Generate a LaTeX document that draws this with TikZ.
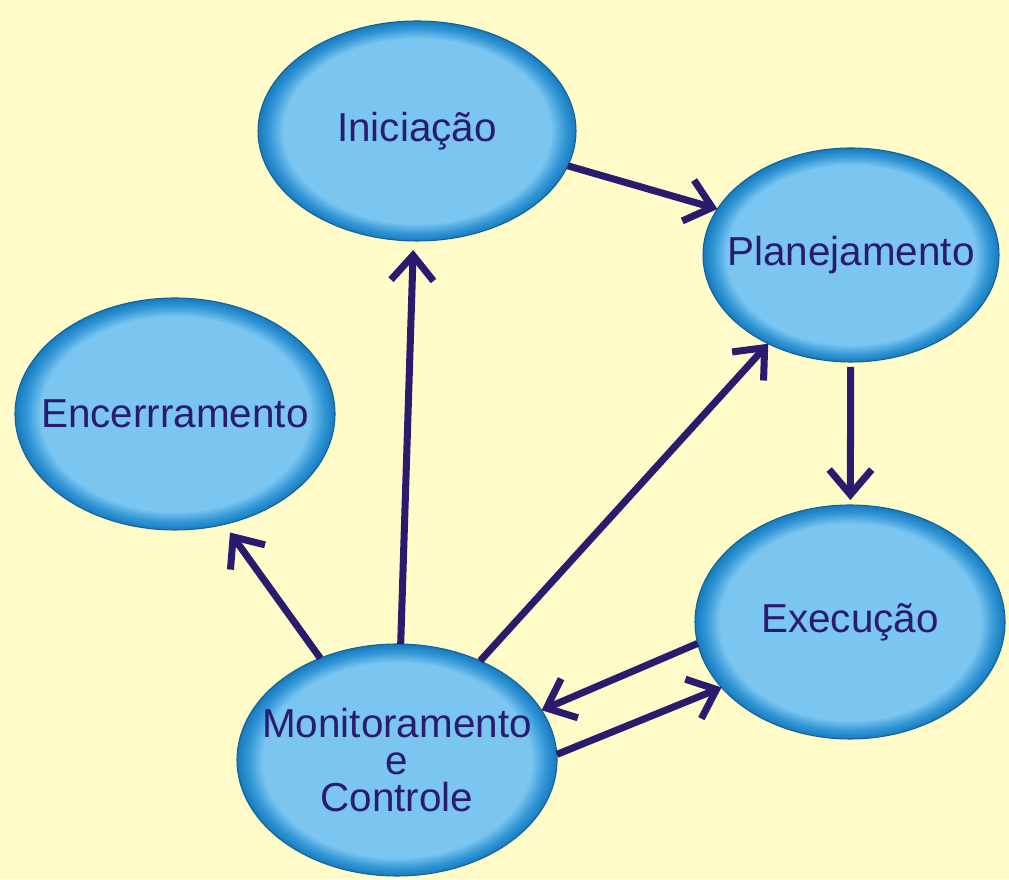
\documentclass[tikz,border=0pt]{standalone}
\usepackage{fontspec}
\setmainfont{Liberation Sans}
\usepackage{tikz}
\usetikzlibrary{arrows.meta,shapes,positioning,calc}

\definecolor{paper}{RGB}{255,252,202}
\definecolor{phaselight}{RGB}{122,198,240}
\definecolor{phasering}{RGB}{50,150,214}
\definecolor{phasedark}{RGB}{22,122,190}
\definecolor{navy}{RGB}{42,27,110}

\pgfdeclareradialshading{phaseshade}{\pgfpoint{0bp}{0bp}}{%
  color(0bp)=(phaselight); color(21bp)=(phaselight);
  color(23.3bp)=(phasering); color(25bp)=(phasedark); color(50bp)=(phasedark)}

\begin{document}
\begin{tikzpicture}[>={Straight Barb[length=5mm,width=8.5mm]},
    every phase/.style={ellipse, shading=phaseshade, draw=phasedark!80!black,
      line width=0.6pt, outer sep=0pt, inner xsep=-1.5cm, inner ysep=0pt,
      text=navy, align=center, font=\fontsize{23}{21}\selectfont},
    link/.style={->, draw=navy, line width=4pt}]
    \useasboundingbox[fill=paper] (0,0) rectangle (20.18,17.58);

    \node [every phase, minimum width=6.36cm, minimum height=4.4cm] (ini) at (8.34,14.96) {Iniciação};
    \node [every phase, minimum width=5.92cm, minimum height=4.28cm] (plan) at (17.02,12.48) {Planejamento};
    \node [every phase, minimum width=6.4cm, minimum height=4.64cm] (enc) at (3.5,9.3) {Encerrramento};
    \node [every phase, minimum width=6.2cm, minimum height=4.68cm] (exe) at (17.0,5.14) {Execução};
    \node [every phase, minimum width=6.4cm, minimum height=4.64cm] (mon) at (7.94,2.38) {Monitoramento\\e\\Controle};

    \path (ini.-13) edge [link] (plan.161);
    \path (plan) edge [link, shorten <=0.1cm, shorten >=0.1cm] (exe);
    \path (exe.188) edge [link] (mon.19);
    \path (mon.2) edge [link] (exe.207);
    \path (mon) edge [link, shorten >=0.18cm] (ini);
    \path (mon.50) edge [link] (plan.-133);
    \path (mon.127) edge [link, shorten >=0.2cm] (enc.-66);

\end{tikzpicture}
\end{document}
